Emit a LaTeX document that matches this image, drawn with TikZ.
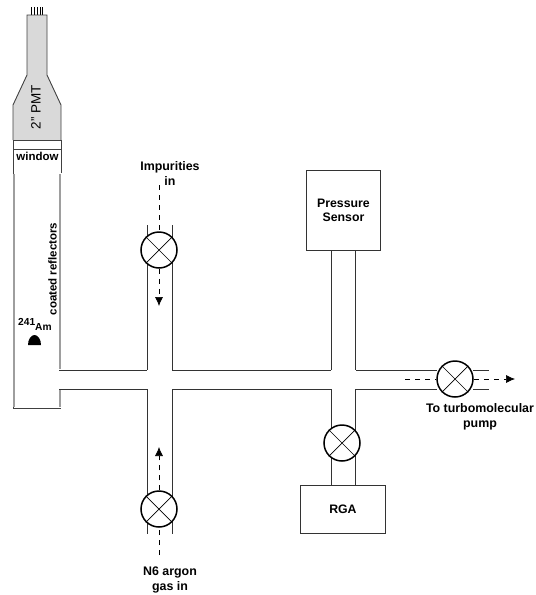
\documentclass[tikz,border=0pt]{standalone}
\usepackage{fontspec}
\setmainfont{Liberation Sans}
\usetikzlibrary{arrows.meta}
\tikzset{
  x=1pt,y=-1pt,
  valve/.style={circle,draw,line width=1.5pt,minimum size=36pt,inner sep=0pt,fill=white},
  pipe/.style={draw=black!80,line width=0.9pt},
  flow/.style={draw,line width=0.7pt,dash pattern=on 5pt off 5pt},
  flowtip/.style={flow,-{Latex[length=9pt,width=8pt]}},
  box/.style={draw=black!80,line width=0.9pt,fill=white,anchor=north west,inner sep=0pt,font=\bfseries\fontsize{12.3}{14.5}\selectfont,align=center},
  lbl/.style={font=\bfseries\fontsize{12.4}{15}\selectfont,align=center,inner sep=0pt},
  small/.style={font=\bfseries\fontsize{11.5}{13}\selectfont,inner sep=0pt},
  reflector/.style={draw=black!38,line width=2.6pt},
}
\begin{document}
\begin{tikzpicture}
\useasboundingbox (0,0) rectangle (536,595);
% PMT
\foreach \px in {31.5,34.5,37.5,40.5,42.5}{\draw[line width=0.7pt] (\px,7) -- (\px,15);}
\draw[fill=black!15,draw=black!75,line width=0.9pt]
  (13,140) -- (13,105) -- (27,75) -- (27,15) -- (47,15) -- (47,75) -- (61,105) -- (61,140);
\draw[draw=black!75,line width=0.9pt] (13,140) rectangle (61,149);
\draw[draw=black!75,line width=0.9pt] (13,149) -- (13,408) -- (61,408) (61,149) -- (61,173);
\draw[reflector] (14,174) -- (14,407) (60,174) -- (60,369) (60,389) -- (60,407);
\node[lbl,font=\fontsize{13.5}{14}\selectfont,rotate=90] (pmt) at (36,107) {2" PMT};
\node[small] (win) at (37.5,156) {window};
\node[small,rotate=90] (coat) at (52.5,269) {coated reflectors};
\node[small,font=\bfseries\fontsize{10.2}{12}\selectfont,anchor=west] (am) at (18,324.5) {\raisebox{2.5pt}{241}\raisebox{-2.5pt}{Am}};
\fill (28,345) arc[start angle=180,end angle=0,x radius=6.5pt,y radius=10pt] -- cycle;
% pipes
\draw[pipe] (59,370) -- (147,370) (172,370) -- (331,370) (356,370) -- (437,370) (473,370) -- (489,370);
\draw[pipe] (59,389) -- (147,389) (172,389) -- (331,389) (356,389) -- (437,389) (473,389) -- (489,389);
\draw[pipe] (147,225) -- (147,370) (172,225) -- (172,370) (147,389) -- (147,534) (172,389) -- (172,534);
\draw[pipe] (331,250) -- (331,370) (355,250) -- (355,370) (331,389) -- (331,485) (355,389) -- (355,485);
% boxes
\node[box,minimum width=74pt,minimum height=80pt] (ps) at (306,170) {Pressure\\Sensor};
\node[box,minimum width=85pt,minimum height=48pt] (rga) at (300,485) {RGA};
% valves
\foreach \n/\cx/\cy in {v1/159/250,v2/159/509,v3/342/443,v4/455/379}{
  \node[valve] (\n) at (\cx,\cy) {};
  \draw[line width=0.7pt] (\n.45) -- (\n.225) (\n.135) -- (\n.-45);
}
% flows
\coordinate (a0) at (159,185); \coordinate (a1) at (159,306);
\draw[flow] (a0) -- (v1.north);
\draw[flowtip] (v1.south) -- (a1);
\coordinate (b0) at (159,555); \coordinate (b1) at (159,447);
\draw[flow] (b0) -- (v2.south);
\draw[flowtip] (v2.north) -- (b1);
\coordinate (c0) at (405,379); \coordinate (c1) at (515,379);
\draw[flow] (c0) -- (v4.west);
\draw[flowtip] (v4.east) -- (c1);
% labels
\node[lbl] (imp) at (170,174) {Impurities\\in};
\node[lbl] (pump) at (480,417) {To turbomolecular\\pump};
\node[lbl] (n6) at (170,580) {N6 argon\\gas in};
\end{tikzpicture}
\end{document}
